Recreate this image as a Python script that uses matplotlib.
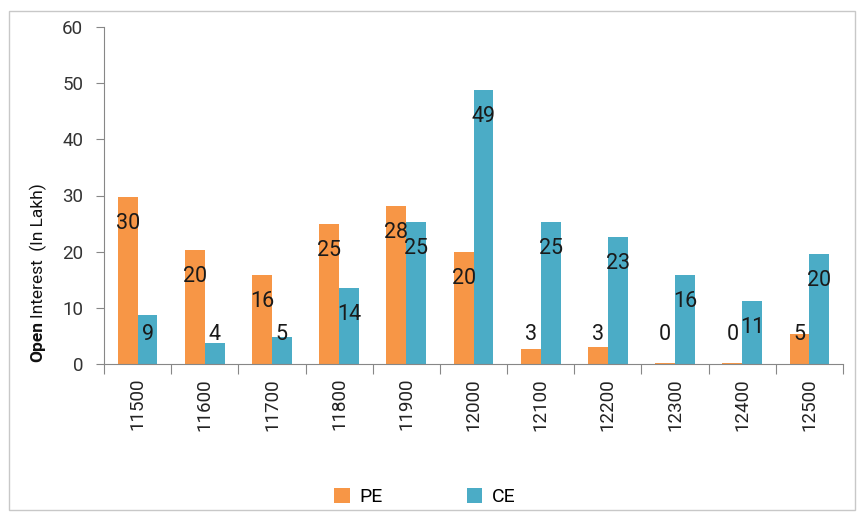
import matplotlib
matplotlib.use("Agg")
import matplotlib.pyplot as plt
import numpy as np
from matplotlib.patches import Rectangle

strikes = ["11500", "11600", "11700", "11800", "11900", "12000", "12100", "12200", "12300", "12400", "12500"]
pe = [29.7, 20.3, 15.9, 24.9, 28.1, 19.9, 2.6, 3.0, 0.2, 0.2, 5.3]
ce = [8.8, 3.8, 4.8, 13.6, 25.3, 48.7, 25.2, 22.6, 15.9, 11.2, 19.5]

PE_COL = "#F79646"
CE_COL = "#4BACC6"
plt.rcParams['font.family'] = ['Roboto', 'DejaVu Sans']

W, H = 864, 514
fig = plt.figure(figsize=(W/100, H/100), dpi=100)
ax = fig.add_axes([104/W, 1-364/H, (843-104)/W, (364-27)/H])

x = np.arange(len(strikes))
bw = 0.295
b1 = ax.bar(x - bw/2, pe, bw, color=PE_COL, label="PE")
b2 = ax.bar(x + bw/2, ce, bw, color=CE_COL, label="CE")

for xs, vals in ((x - bw/2, pe), (x + bw/2, ce)):
    for xi, v in zip(xs, vals):
        ax.text(xi, max(v - 4.7, 5.2), f"{round(v):d}", ha='center', va='center',
                fontsize=15.5, color='#1a1a1a')

ax.set_xlim(-0.5, len(strikes) - 0.5)
ax.set_ylim(0, 60)
ax.set_yticks(range(0, 61, 10))
ax.tick_params(axis='y', labelsize=13.5, colors='#878787', labelcolor='#333333', length=6, direction='out', pad=9)
ax.set_xticks(np.arange(-0.5, len(strikes), 1.0))
ax.set_xticklabels([])
ax.set_xticks(x, minor=True)
ax.set_xticklabels(strikes, minor=True, rotation=90, fontsize=13.5, color='#222222')
ax.tick_params(axis='x', which='major', length=7, colors='#878787')
ax.tick_params(axis='x', which='minor', length=0, pad=10)
for s in ('top', 'right'):
    ax.spines[s].set_visible(False)
for s in ('left', 'bottom'):
    ax.spines[s].set_color('#878787')

leg = fig.legend(handles=[b1, b2], labels=["PE", "CE"], loc='center', bbox_to_anchor=(425/W, 1-497/H),
                 ncol=2, frameon=False, fontsize=14, handlelength=0.8, handleheight=0.8,
                 columnspacing=4.3, handletextpad=0.5)

# y label with bold "Open"
t1 = fig.text(38/W, 1-362/H, "Open", rotation=90, fontweight='bold', fontsize=12.5,
              ha='center', va='bottom', color='#111111')
fig.canvas.draw()
bb = t1.get_window_extent()
fig.text(38/W, (bb.y1 + 3)/H, "Interest  (In Lakh)", rotation=90, fontsize=12.5,
         ha='center', va='bottom', color='#111111')

fig.patches.append(Rectangle((9/W, 1-510/H), (855-9)/W, (510-11)/H, transform=fig.transFigure,
                             fill=False, edgecolor='#c8c8c8', linewidth=1))

fig.savefig("out.png", dpi=100)
